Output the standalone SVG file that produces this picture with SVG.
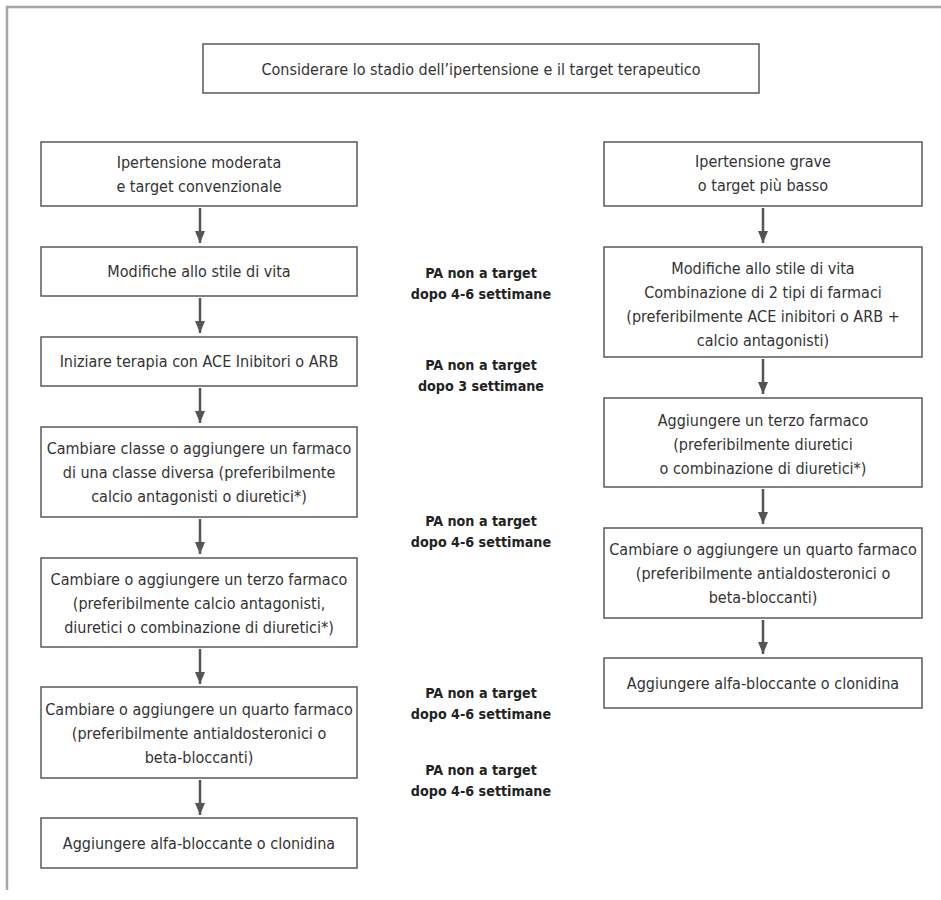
<svg xmlns="http://www.w3.org/2000/svg" width="941" height="900" viewBox="0 0 941 900">
<defs>
<style>
.box{fill:#fff;stroke:#5a5a5a;stroke-width:1.5}
.t{font-family:"Liberation Sans Narrow","DejaVu Sans Condensed","Liberation Sans",sans-serif;font-size:16px;fill:#333;text-anchor:middle}
.lb{font-family:"Liberation Sans Narrow","DejaVu Sans Condensed","Liberation Sans",sans-serif;font-size:14.2px;font-weight:bold;fill:#222;text-anchor:middle}
.c{stroke:#555;stroke-width:2.5;fill:none}
.frame{stroke:#a3a5ab;stroke-width:2.5;fill:none}
</style>
<marker id="arr" markerUnits="userSpaceOnUse" markerWidth="12" markerHeight="12" refX="12" refY="6" orient="auto" viewBox="0 0 12 12">
<path d="M0,1 L12,6 L0,11 Z" fill="#555"/>
</marker>
</defs>
<rect width="941" height="900" fill="#fff"/>
<path class="frame" d="M7,890 V7 H941"/>

<g id="top">
<rect class="box" x="203" y="44" width="556" height="49"/>
<text class="t" x="481" y="75">Considerare lo stadio dell’ipertensione e il target terapeutico</text>
</g>

<g id="L1"><rect class="box" x="41" y="142" width="316" height="64"/>
<text class="t" x="199" y="168">Ipertensione moderata</text>
<text class="t" x="199" y="192">e target convenzionale</text></g>
<g id="L2"><rect class="box" x="41" y="247" width="316" height="49"/>
<text class="t" x="199" y="277">Modifiche allo stile di vita</text></g>
<g id="L3"><rect class="box" x="41" y="337" width="316" height="49"/>
<text class="t" x="199" y="367">Iniziare terapia con ACE Inibitori o ARB</text></g>
<g id="L4"><rect class="box" x="41" y="427" width="316" height="90"/>
<text class="t" x="199" y="454">Cambiare classe o aggiungere un farmaco</text>
<text class="t" x="199" y="478">di una classe diversa (preferibilmente</text>
<text class="t" x="199" y="502">calcio antagonisti o diuretici*)</text></g>
<g id="L5"><rect class="box" x="41" y="558" width="316" height="89"/>
<text class="t" x="199" y="585">Cambiare o aggiungere un terzo farmaco</text>
<text class="t" x="199" y="609">(preferibilmente calcio antagonisti,</text>
<text class="t" x="199" y="633">diuretici o combinazione di diuretici*)</text></g>
<g id="L6"><rect class="box" x="41" y="687" width="316" height="91"/>
<text class="t" x="199" y="715">Cambiare o aggiungere un quarto farmaco</text>
<text class="t" x="199" y="739">(preferibilmente antialdosteronici o</text>
<text class="t" x="199" y="763">beta-bloccanti)</text></g>
<g id="L7"><rect class="box" x="41" y="818" width="316" height="50"/>
<text class="t" x="199" y="849">Aggiungere alfa-bloccante o clonidina</text></g>

<g id="R1"><rect class="box" x="604" y="142" width="318" height="64"/>
<text class="t" x="763" y="167">Ipertensione grave</text>
<text class="t" x="763" y="191">o target più basso</text></g>
<g id="R2"><rect class="box" x="604" y="247" width="318" height="110"/>
<text class="t" x="763" y="274">Modifiche allo stile di vita</text>
<text class="t" x="763" y="298">Combinazione di 2 tipi di farmaci</text>
<text class="t" x="763" y="322">(preferibilmente ACE inibitori o ARB +</text>
<text class="t" x="763" y="346">calcio antagonisti)</text></g>
<g id="R3"><rect class="box" x="604" y="398" width="318" height="89"/>
<text class="t" x="763" y="426">Aggiungere un terzo farmaco</text>
<text class="t" x="763" y="450">(preferibilmente diuretici</text>
<text class="t" x="763" y="474">o combinazione di diuretici*)</text></g>
<g id="R4"><rect class="box" x="604" y="528" width="318" height="90"/>
<text class="t" x="763" y="555">Cambiare o aggiungere un quarto farmaco</text>
<text class="t" x="763" y="579">(preferibilmente antialdosteronici o</text>
<text class="t" x="763" y="603">beta-bloccanti)</text></g>
<g id="R5"><rect class="box" x="604" y="658" width="318" height="50"/>
<text class="t" x="763" y="689">Aggiungere alfa-bloccante o clonidina</text></g>

<g id="labels">
<text class="lb" x="481" y="278">PA non a target</text>
<text class="lb" x="481" y="299">dopo 4-6 settimane</text>
<text class="lb" x="481" y="370">PA non a target</text>
<text class="lb" x="481" y="391">dopo 3 settimane</text>
<text class="lb" x="481" y="526">PA non a target</text>
<text class="lb" x="481" y="547">dopo 4-6 settimane</text>
<text class="lb" x="481" y="698">PA non a target</text>
<text class="lb" x="481" y="719">dopo 4-6 settimane</text>
<text class="lb" x="481" y="775">PA non a target</text>
<text class="lb" x="481" y="796">dopo 4-6 settimane</text>
</g>

<g id="connectors">
<line class="c" x1="200" y1="208" x2="200" y2="243" marker-end="url(#arr)"/>
<line class="c" x1="200" y1="298" x2="200" y2="333" marker-end="url(#arr)"/>
<line class="c" x1="200" y1="388" x2="200" y2="423" marker-end="url(#arr)"/>
<line class="c" x1="200" y1="519" x2="200" y2="554" marker-end="url(#arr)"/>
<line class="c" x1="200" y1="649" x2="200" y2="684" marker-end="url(#arr)"/>
<line class="c" x1="200" y1="780" x2="200" y2="815" marker-end="url(#arr)"/>
<line class="c" x1="763" y1="208" x2="763" y2="243" marker-end="url(#arr)"/>
<line class="c" x1="763" y1="359" x2="763" y2="394" marker-end="url(#arr)"/>
<line class="c" x1="763" y1="489" x2="763" y2="524" marker-end="url(#arr)"/>
<line class="c" x1="763" y1="620" x2="763" y2="654" marker-end="url(#arr)"/>
</g>
</svg>
